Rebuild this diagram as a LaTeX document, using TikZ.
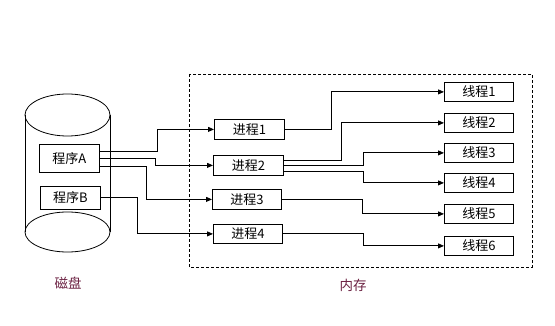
\documentclass[tikz,border=0pt]{standalone}
\usepackage{fontspec}
\newfontfamily\cjk{Noto Sans CJK SC}
\usetikzlibrary{arrows.meta}
\definecolor{lbl}{HTML}{6B2142}
\tikzset{
  box/.style={draw, line width=0.8pt, anchor=north west, inner sep=0pt, font=\cjk\fontsize{13}{15}\selectfont},
  arr/.style={draw, line width=0.8pt, -{Triangle[length=6pt,width=5pt]}},
  ln/.style={line width=0.8pt},
  lab/.style={text=lbl, font=\cjk\fontsize{13.5}{15}\selectfont}
}
\begin{document}
\begin{tikzpicture}[x=1pt,y=-1pt]
\useasboundingbox (0,0) rectangle (555,326);
% disk cylinder
\draw[ln] (67.5,115) ellipse [x radius=42.5pt, y radius=21pt];
\draw[ln] (67.5,232) ellipse [x radius=42.5pt, y radius=20pt];
\draw[ln] (25,115) -- (25,232);
\draw[ln] (110,115) -- (110,232);
% memory frame
\draw[ln, dash pattern=on 3pt off 2pt] (189,74) rectangle (532,267);
% programs
\node[box, minimum width=60pt, minimum height=28pt] (pA) at (39,144) {程序A};
\node[box, minimum width=60pt, minimum height=23pt] (pB) at (40,186) {程序B};
% processes
\node[box, minimum width=70pt, minimum height=20pt] (p1) at (214,119) {进程1};
\node[box, minimum width=70pt, minimum height=20pt] (p2) at (213,155) {进程2};
\node[box, minimum width=69pt, minimum height=20pt] (p3) at (212,189) {进程3};
\node[box, minimum width=69pt, minimum height=19pt] (p4) at (213,224) {进程4};
% threads
\node[box, minimum width=69pt, minimum height=19pt] (t1) at (444,82) {线程1};
\node[box, minimum width=69pt, minimum height=19pt] (t2) at (444,113) {线程2};
\node[box, minimum width=69pt, minimum height=19pt] (t3) at (444,143) {线程3};
\node[box, minimum width=69pt, minimum height=19pt] (t4) at (444,173) {线程4};
\node[box, minimum width=69pt, minimum height=19pt] (t5) at (444,204) {线程5};
\node[box, minimum width=69pt, minimum height=19pt] (t6) at (444,236) {线程6};
% labels
\node[lab] (disk) at (68,283) {磁盘};
\node[lab] (mem) at (353,285) {内存};
% program -> process
\draw[arr] ([yshift=7pt]pA.east) -- ++(58,0) |- (p1.west);
\draw[arr] (pA.east) -- ++(56,0) |- (p2.west);
\draw[arr] ([yshift=-8pt]pA.east) -- ++(47,0) |- (p3.west);
\draw[arr] (pB.east) -- ++(37,0) |- (p4.west);
% process -> thread
\draw[arr] (p1.east) -- ++(47,0) |- (t1.west);
\draw[arr] ([yshift=5pt]p2.east) -- ++(58,0) |- (t2.west);
\draw[arr] (p2.east) -- ++(80,0) |- (t3.west);
\draw[arr] ([yshift=-6pt]p2.east) -- ++(80,0) |- (t4.west);
\draw[arr] (p3.east) -- ++(81,0) |- (t5.west);
\draw[arr] (p4.east) -- ++(81,0) |- (t6.west);
\end{tikzpicture}
\end{document}
